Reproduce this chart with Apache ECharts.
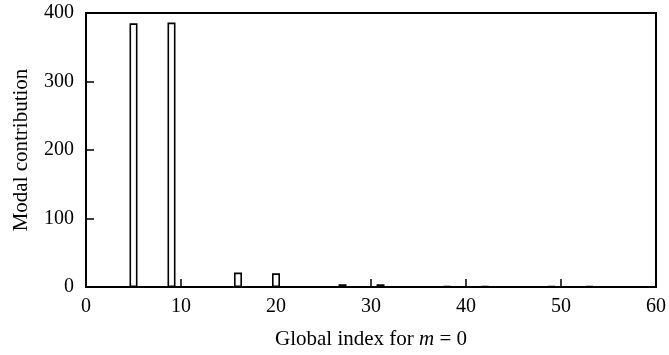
<!DOCTYPE html>
<html><head><meta charset="utf-8">
<script src="https://cdn.jsdelivr.net/npm/echarts@6/dist/echarts.min.js"></script>
<style>html,body{margin:0;padding:0;background:#fff}#c{width:669px;height:355px}</style>
</head><body><div id="c"></div>
<script>
const globalIndex = [1,2,3,4,5,6,7,8,9,10,11,12,13,14,15,16,17,18,19,20,21,22,23,24,25,26,27,28,29,30,31,32,33,34,35,36,37,38,39,40,41,42,43,44,45,46,47,48,49,50,51,52,53,54,55,56,57,58,59];
const contribution = [0.3,0.5,0.8,0.5,385,0.5,0.8,0.6,386,0.4,0.8,0.6,0.8,0.6,0.3,21,0.3,0.2,0.3,20,0.2,0.2,0.2,0.2,0.2,0.3,4,0.3,0.2,0.3,4,0.5,0.3,0.5,0.4,0.5,0.6,1.2,0.6,0.4,0.4,1.2,0.4,0.3,0.3,0.3,0.3,0.4,1.2,0.4,0.3,0.3,1.2,0.3,0.3,0.5,0.8,0.6,0.3];
const xTicks = [0,10,20,30,40,50,60];
const yTicks = [0,100,200,300,400];

const chart = echarts.init(document.getElementById('c'), null, {renderer:'canvas'});
const font = 'Liberation Serif';
chart.setOption({
  animation:false,
  grid:{left:86,right:12,top:13,bottom:66,show:true,borderColor:'#000',borderWidth:2,backgroundColor:'transparent'},
  xAxis:{type:'value',min:xTicks[0],max:xTicks[xTicks.length-1],interval:10,
    axisLine:{show:true,lineStyle:{color:'#000',width:2}},
    axisTick:{show:true,inside:true,length:8,lineStyle:{color:'#000',width:1.5}},
    splitLine:{show:false},
    axisLabel:{color:'#000',fontFamily:font,fontSize:20,margin:10},
    name:'{n|Global index for }{i|m}{n| = 0}',nameLocation:'middle',nameGap:42,
    nameTextStyle:{rich:{n:{fontFamily:font,fontSize:21,color:'#000'},i:{fontFamily:font,fontSize:21,color:'#000',fontStyle:'italic'}}}
  },
  yAxis:{type:'value',min:yTicks[0],max:yTicks[yTicks.length-1],interval:100,
    axisLine:{show:true,lineStyle:{color:'#000',width:2}},
    axisTick:{show:true,inside:true,length:8,lineStyle:{color:'#000',width:1.5}},
    splitLine:{show:false},
    axisLabel:{color:'#000',fontFamily:font,fontSize:20,margin:12},
    name:'Modal contribution',nameLocation:'middle',nameGap:54,
    nameTextStyle:{fontFamily:font,fontSize:21,color:'#000'}
  },
  series:[{type:'bar',barWidth:8,
    data:globalIndex.map((x,i)=>[x,contribution[i]]),
    itemStyle:{color:'#fff',borderColor:'#000',borderWidth:1.6}
  }]
});
</script></body></html>
